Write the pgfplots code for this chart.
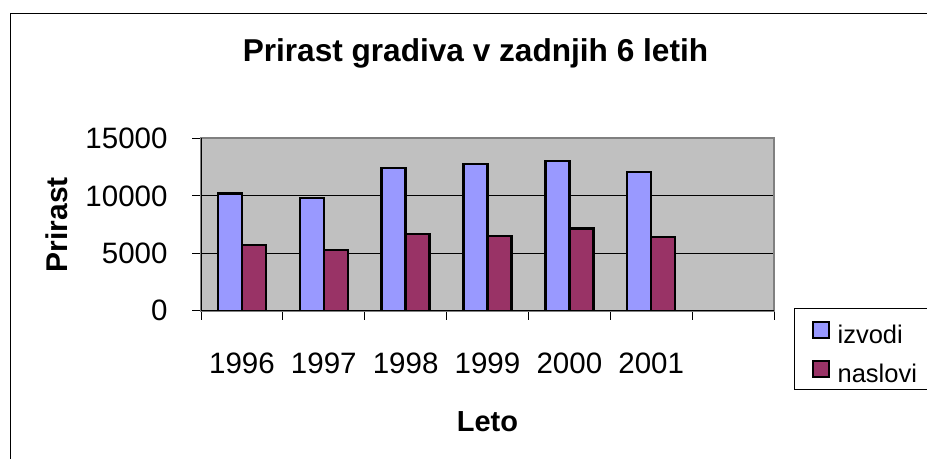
\documentclass[border=0pt]{standalone}
\usepackage{fontspec}
\setmainfont{Liberation Sans}
\usepackage{pgfplots}
\pgfplotsset{compat=1.18}
\definecolor{izv}{HTML}{9999FF}
\definecolor{nas}{HTML}{993366}
\definecolor{plotbg}{HTML}{C0C0C0}
\definecolor{framegray}{HTML}{808080}
\begin{document}
\begin{tikzpicture}
\path[use as bounding box] (0,0) rectangle (927bp,459bp);
\draw[line width=1.2bp] (10.7bp,-5bp) -- (10.7bp,445.7bp) -- (935bp,445.7bp);
\begin{axis}[
  at={(201bp,148.3bp)}, anchor=south west,
  scale only axis, width=573bp, height=172.2bp,
  xmin=-0.5, xmax=6.5, ymin=0, ymax=15000,
  ybar=0pt, bar width=24bp,
  axis background/.style={fill=plotbg},
  axis line style={draw=framegray, line width=2bp},
  xtick={-0.5,0.5,...,6.5},
  xticklabels={},
  extra x ticks={0,1,2,3,4,5},
  extra x tick labels={1996,1997,1998,1999,2000,2001},
  extra x tick style={major tick length=0pt},
  ytick={0,5000,10000,15000},
  tick align=outside, tick pos=left,
  major tick length=9bp,
  tick style={draw=black, line width=1bp},
  ytick style={draw=black, line width=1.2bp},
  ymajorgrids,
  y grid style={black, line width=0.8bp},
  scaled y ticks=false,
  /pgf/number format/1000 sep={},
  /pgf/number format/assume math mode=true,
  tick label style={font=\fontsize{29.5bp}{34bp}\selectfont},
  xticklabel style={anchor=base, inner sep=0pt, yshift=-62.6bp},
  yticklabel style={anchor=east, inner sep=0pt, xshift=-24.3bp},
  title={Prirast gradiva v zadnjih 6 letih},
  title style={at={(axis description cs:0.479,1.411)}, anchor=base, inner sep=0pt, font=\bfseries\fontsize{31.6bp}{36bp}\selectfont},
  xlabel={Leto},
  xlabel style={at={(axis description cs:0.5,-0.699)}, anchor=base, inner sep=0pt, font=\bfseries\fontsize{29bp}{34bp}\selectfont},
  ylabel={Prirast},
  ylabel style={at={(axis description cs:-0.2333,0.5)}, anchor=base, inner sep=0pt, font=\bfseries\fontsize{30bp}{34bp}\selectfont},
  legend style={at={(axis description cs:1.0349,0.0157)}, anchor=north west, draw=black, line width=1bp, fill=white, inner sep=1.35bp, row sep=0pt, column sep=8bp, font=\fontsize{25.5bp}{30bp}\selectfont, nodes={inner sep=0pt, text height=33.35bp, text depth=5.65bp, anchor=base west}},
]
\addplot[fill=izv, draw=black, line width=2.3bp,
  legend image code/.code={\path[draw=none, fill=none] (0bp,0bp) -- (17bp,0bp); \draw[fill=izv, draw=black, line width=1.5bp] (17bp,5bp) rectangle (33bp,21bp);}]
  coordinates {(0,10200) (1,9800) (2,12400) (3,12800) (4,13050) (5,12100)};
\addplot[fill=nas, draw=black, line width=2.3bp,
  legend image code/.code={\path[draw=none, fill=none] (0bp,0bp) -- (17bp,0bp); \draw[fill=nas, draw=black, line width=1.5bp] (17bp,5bp) rectangle (33bp,21bp);}]
  coordinates {(0,5700) (1,5300) (2,6700) (3,6500) (4,7150) (5,6400)};
\legend{\makebox[100bp][l]{izvodi}, \makebox[100bp][l]{naslovi}}
\draw[black, line width=1bp] (rel axis cs:0,1) -- (rel axis cs:0,0) -- (rel axis cs:1,0);
\end{axis}
\end{tikzpicture}
\end{document}
